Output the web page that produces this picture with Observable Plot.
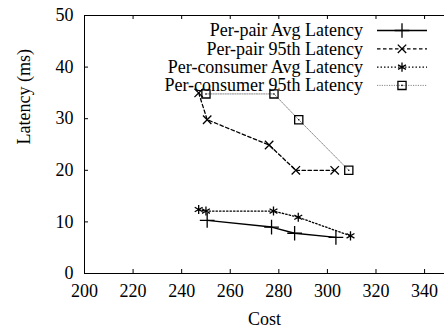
<!DOCTYPE html>
<html><head><meta charset="utf-8">
<script src="https://cdn.jsdelivr.net/npm/d3@7"></script>
<script src="https://cdn.jsdelivr.net/npm/@observablehq/plot@0.6"></script>
<style>html,body{margin:0;padding:0;background:#fff;} #chart svg{display:block;}</style>
</head><body><div id="chart"></div>
<script>
// ---- data ----
const seriesNames = ["Per-pair Avg Latency", "Per-pair 95th Latency", "Per-consumer Avg Latency", "Per-consumer 95th Latency"];
const pairAvgCost = [250.5, 277, 286.5, 303.5];
const pairAvgLatency = [10.3, 9.0, 7.8, 7.0];
const pair95Cost = [247, 250.5, 276, 287, 303];
const pair95Latency = [35, 29.8, 24.9, 20, 20];
const consAvgCost = [247, 250, 277.8, 288, 309.5];
const consAvgLatency = [12.4, 12.1, 12.1, 10.9, 7.3];
const cons95Cost = [250, 278, 288.2, 308.8];
const cons95Latency = [34.8, 34.8, 29.8, 20];
const xTicks = [200, 220, 240, 260, 280, 300, 320, 340];
const yTicks = [0, 10, 20, 30, 40, 50];
const xLabel = "Cost";
const yLabel = "Latency (ms)";

// ---- layout / style ----
const W = 444, H = 329, mL = 84, mR = 0, mT = 15, mB = 56;
const xDomain = [200, 348.2];
const yDomain = [0, 50];
const plotW = W - mL - mR, plotH = H - mT - mB;
const FONT = "'Liberation Serif', 'Times New Roman', Times, 'DejaVu Serif', serif";
const styles = [
  {symbol: "plus", r: 4.8, stroke: "black", width: 1.4, dash: null},
  {symbol: "times", r: 3.9, stroke: "black", width: 1.3, dash: "3.5,2.5"},
  {symbol: "asterisk", r: 4.3, stroke: "black", width: 1.3, dash: "1.5,2"},
  {symbol: "square2", r: 5.2, stroke: "#888", width: 1, dash: "1.2,1.2"}
];
const markerStroke = "black";

const toRows = (cs, ls) => cs.map((c, i) => ({cost: c, latency: ls[i]}));
const seriesData = [
  toRows(pairAvgCost, pairAvgLatency),
  toRows(pair95Cost, pair95Latency),
  toRows(consAvgCost, consAvgLatency),
  toRows(cons95Cost, cons95Latency)
];

const symbolMap = {plus: d3.symbolPlus, times: d3.symbolTimes, asterisk: d3.symbolAsterisk, square2: d3.symbolSquare2};

const seriesMarks = seriesData.flatMap((rows, i) => {
  const s = styles[i];
  const marks = [
    Plot.line(rows, {x: "cost", y: "latency", stroke: s.stroke, strokeWidth: s.width, strokeDasharray: s.dash}),
    Plot.dot(rows, {x: "cost", y: "latency", symbol: () => s.symbol, r: s.r, stroke: markerStroke, strokeWidth: 1.3, fill: "none"})
  ];
  if (s.symbol === "square2") marks.push(Plot.dot(rows, {x: "cost", y: "latency", r: 0.8, fill: "black", stroke: "none"}));
  return marks;
});

const legendMark = () => {
  const g = d3.create("svg:g").attr("font-family", FONT).attr("font-size", 18).attr("fill", "black");
  const right = W - mR;
  seriesNames.forEach((name, i) => {
    const s = styles[i];
    const yy = mT + 15.5 + i * 18.3;
    g.append("text").attr("x", right - 81).attr("y", yy).attr("dy", "0.32em").attr("text-anchor", "end").text(name);
    g.append("line").attr("x1", right - 67).attr("x2", right - 17).attr("y1", yy).attr("y2", yy)
      .attr("stroke", s.stroke).attr("stroke-width", s.width).attr("stroke-dasharray", s.dash);
    g.append("path").attr("transform", `translate(${right - 42},${yy})`)
      .attr("d", d3.symbol(symbolMap[s.symbol], Math.PI * s.r * s.r)())
      .attr("fill", "none").attr("stroke", markerStroke).attr("stroke-width", 1.3);
    if (s.symbol === "square2") g.append("circle").attr("cx", right - 42).attr("cy", yy).attr("r", 0.8).attr("fill", "black");
  });
  return g.node();
};

const chart = Plot.plot({
  width: W, height: H,
  marginLeft: mL, marginRight: mR, marginTop: mT, marginBottom: mB,
  style: {fontFamily: FONT, fontSize: "18px", background: "white", color: "black"},
  x: {domain: xDomain},
  y: {domain: yDomain},
  marks: [
    Plot.ruleX([xDomain[0]], {stroke: "black", strokeWidth: 1}),
    Plot.ruleY([yDomain[0], yDomain[1]], {stroke: "black", strokeWidth: 1}),
    Plot.tickX(xTicks, {x: d => d, insetTop: plotH - 4, stroke: "black"}),
    Plot.tickX(xTicks, {x: d => d, insetBottom: plotH - 4, stroke: "black"}),
    Plot.tickY(yTicks, {y: d => d, insetRight: plotW - 4, stroke: "black"}),
    Plot.axisX({ticks: xTicks, tickSize: 0, tickPadding: 11, label: null, fontSize: 18, fontFamily: FONT}),
    Plot.axisY({ticks: yTicks, tickSize: 0, tickPadding: 11, label: null, fontSize: 18, fontFamily: FONT}),
    Plot.text([xLabel], {frameAnchor: "bottom", dy: 51, fontSize: 18, fontFamily: FONT}),
    Plot.text([yLabel], {frameAnchor: "left", rotate: -90, dx: -60, fontSize: 18, fontFamily: FONT}),
    ...seriesMarks,
    legendMark
  ]
});
document.getElementById("chart").append(chart);
</script>
</body></html>
